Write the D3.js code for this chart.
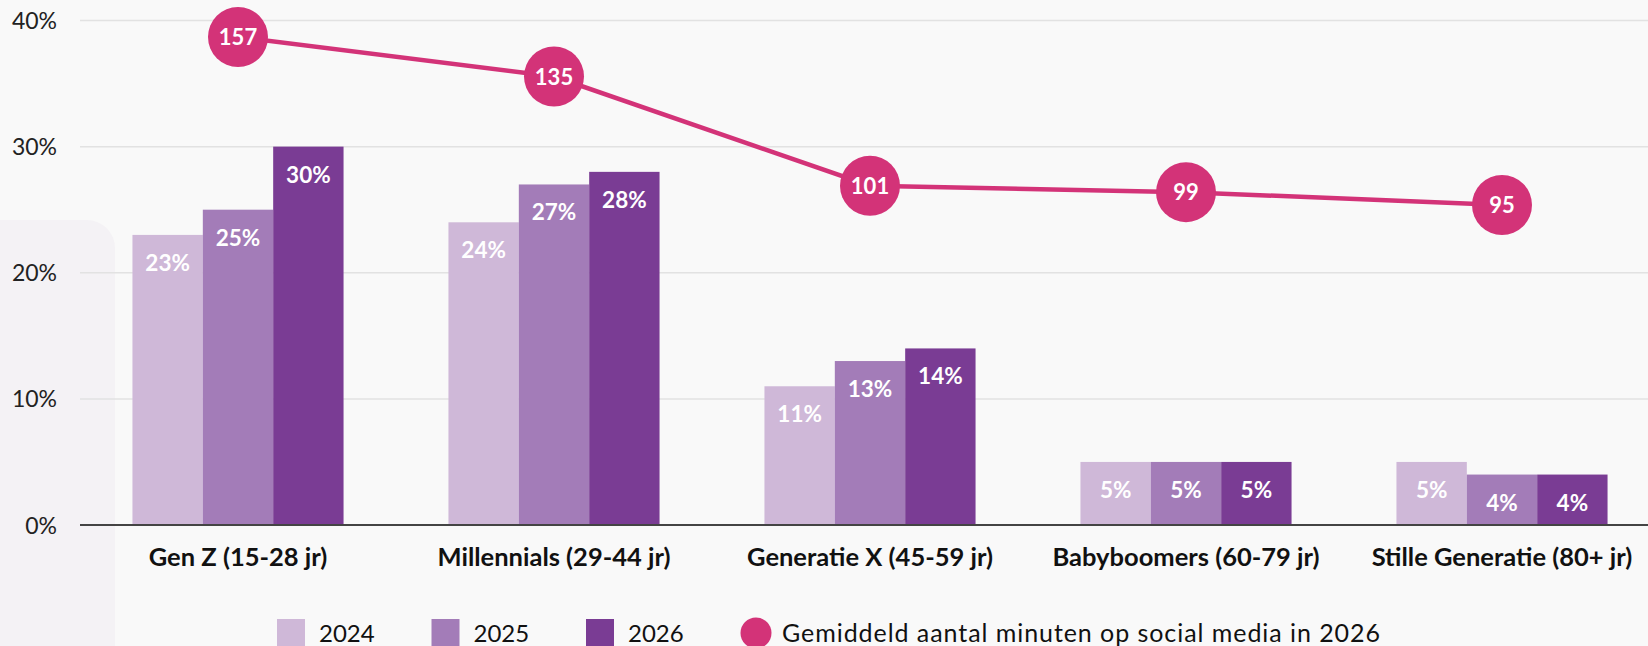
<!DOCTYPE html>
<html>
<head>
<meta charset="utf-8">
<script src="https://cdn.jsdelivr.net/npm/d3@7"></script>
<style>
  html, body { margin: 0; padding: 0; background: #f9f9f9; }
  svg { display: block; }
</style>
</head>
<body>
<div id="viz"></div>
<script>
var width = 1648;
var height = 646;

// data
var categories = ['Gen Z (15-28 jr)', 'Millennials (29-44 jr)', 'Generatie X (45-59 jr)', 'Babyboomers (60-79 jr)', 'Stille Generatie (80+ jr)'];
var years = ['2024', '2025', '2026'];
var share2024 = [23, 24, 11, 5, 5];
var share2025 = [25, 27, 13, 5, 4];
var share2026 = [30, 28, 14, 5, 4];
var minutes2026 = [157, 135, 101, 99, 95];
var yTicks = [0, 10, 20, 30, 40];
var lineLabel = 'Gemiddeld aantal minuten op social media in 2026';

var colors = ['#cfb8d8', '#a37cb8', '#7a3c94'];
var pink = '#d33378';
var font = 'Lato, sans-serif';

var series = [share2024, share2025, share2026];

var svg = d3.select('#viz').append('svg')
  .attr('width', width)
  .attr('height', height);

svg.append('rect')
  .attr('width', width).attr('height', height)
  .style('fill', '#f9f9f9');

// soft panel on the left
svg.append('rect')
  .attr('x', -40).attr('y', 220)
  .attr('width', 155).attr('height', 500)
  .attr('rx', 28)
  .style('fill', '#f4f2f5');

var x0 = d3.scaleBand()
  .domain(categories)
  .range([80, 1660])
  .paddingInner(0.332)
  .paddingOuter(0.166);

var x1 = d3.scaleBand()
  .domain(years)
  .range([0, x0.bandwidth()]);

var y = d3.scaleLinear().domain([0, 40]).range([525, 20.5]);

// second axis for minutes (hidden)
var yMin = d3.scaleLinear().domain([95, 135, 157]).range([205, 76.5, 37]);

// grid
svg.append('g').selectAll('line')
  .data(yTicks.filter(function (d) { return d > 0; }))
  .enter().append('line')
  .attr('x1', 80).attr('x2', width)
  .attr('y1', function (d) { return y(d); })
  .attr('y2', function (d) { return y(d); })
  .style('stroke', '#e2e2e2')
  .style('stroke-width', 1.5);

svg.append('g').selectAll('text')
  .data(yTicks)
  .enter().append('text')
  .attr('x', 57)
  .attr('y', function (d) { return y(d) + 8.5; })
  .attr('text-anchor', 'end')
  .style('font-family', font)
  .style('font-size', '23px')
  .style('fill', '#222')
  .text(function (d) { return d + '%'; });

// bars
var groups = svg.append('g').selectAll('g')
  .data(categories).enter()
  .append('g')
  .attr('transform', function (d) { return 'translate(' + x0(d) + ',0)'; });

groups.selectAll('rect')
  .data(function (d, i) {
    return years.map(function (yr, j) { return { year: yr, value: series[j][i], j: j }; });
  })
  .enter().append('rect')
  .attr('x', function (d) { return x1(d.year); })
  .attr('y', function (d) { return y(d.value); })
  .attr('width', x1.bandwidth())
  .attr('height', function (d) { return y(0) - y(d.value); })
  .style('fill', function (d) { return colors[d.j]; });

groups.selectAll('text')
  .data(function (d, i) {
    return years.map(function (yr, j) { return { year: yr, value: series[j][i] }; });
  })
  .enter().append('text')
  .attr('x', function (d) { return x1(d.year) + x1.bandwidth() / 2; })
  .attr('y', function (d) { return y(d.value) + 36; })
  .attr('text-anchor', 'middle')
  .style('font-family', font)
  .style('font-weight', 700)
  .style('font-size', '22.5px')
  .style('fill', '#fff')
  .text(function (d) { return d.value + '%'; });

// baseline
svg.append('line')
  .attr('x1', 80).attr('x2', width)
  .attr('y1', y(0)).attr('y2', y(0))
  .style('stroke', '#444')
  .style('stroke-width', 2);

// category labels
svg.append('g').selectAll('text')
  .data(categories).enter()
  .append('text')
  .attr('x', function (d) { return x0(d) + x0.bandwidth() / 2; })
  .attr('y', 566)
  .attr('text-anchor', 'middle')
  .style('font-family', font)
  .style('font-weight', 700)
  .style('font-size', '25.5px')
  .style('fill', '#111')
  .text(function (d) { return d; });

// minutes line
var line = d3.line()
  .x(function (d, i) { return x0(categories[i]) + x0.bandwidth() / 2; })
  .y(function (d) { return yMin(d); });

svg.append('path')
  .datum(minutes2026)
  .attr('d', line)
  .style('fill', 'none')
  .style('stroke', pink)
  .style('stroke-width', 4.5);

var dots = svg.append('g').selectAll('g')
  .data(minutes2026).enter()
  .append('g')
  .attr('transform', function (d, i) {
    return 'translate(' + (x0(categories[i]) + x0.bandwidth() / 2) + ',' + yMin(d) + ')';
  });

dots.append('circle')
  .attr('r', 30)
  .style('fill', pink);

dots.append('text')
  .attr('y', 8)
  .attr('text-anchor', 'middle')
  .style('font-family', font)
  .style('font-weight', 700)
  .style('font-size', '22px')
  .style('fill', '#fff')
  .text(function (d) { return d; });

// legend
var legend = svg.append('g');
var legendX = d3.scalePoint().domain(years).range([277, 586]);

var lItems = legend.selectAll('g')
  .data(years).enter()
  .append('g')
  .attr('transform', function (d) { return 'translate(' + legendX(d) + ',619)'; });

lItems.append('rect')
  .attr('width', 28).attr('height', 30)
  .style('fill', function (d, i) { return colors[i]; });

lItems.append('text')
  .attr('x', 42).attr('y', 23)
  .style('font-family', font)
  .style('font-size', '24px')
  .style('fill', '#111')
  .text(function (d) { return d; });

legend.append('circle')
  .attr('cx', 756).attr('cy', 633)
  .attr('r', 15.5)
  .style('fill', pink);

legend.append('text')
  .attr('x', 782).attr('y', 642)
  .attr('textLength', 598)
  .attr('lengthAdjust', 'spacing')
  .style('font-family', font)
  .style('font-size', '25px')
  .style('fill', '#111')
  .text(lineLabel);
</script>
</body>
</html>
